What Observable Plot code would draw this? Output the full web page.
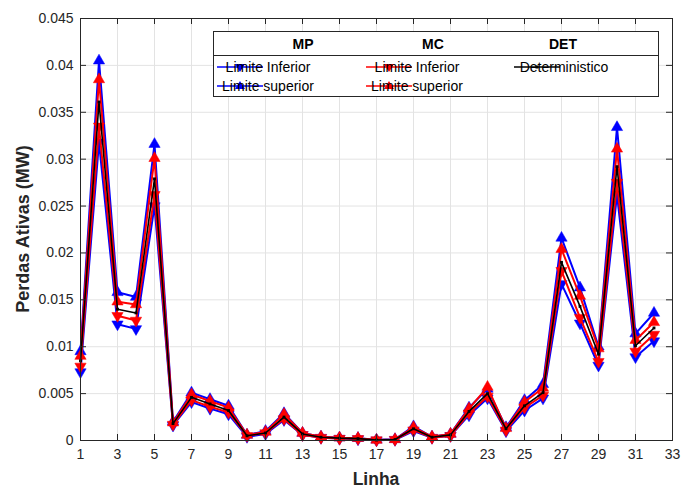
<!DOCTYPE html>
<html>
<head>
<meta charset="utf-8">
<script src="https://cdn.jsdelivr.net/npm/d3@7"></script>
<script src="https://cdn.jsdelivr.net/npm/@observablehq/plot@0.6"></script>
<style>
  html, body { margin: 0; padding: 0; background: #fff; }
</style>
</head>
<body>
<div id="wrap"></div>
<script>
const linhas = [1,2,3,4,5,6,7,8,9,10,11,12,13,14,15,16,17,18,19,20,21,22,23,24,25,26,27,28,29,30,31,32];
const mpInferior = [0.0073,0.0318,0.0124,0.0119,0.0250,0.0016,0.0041,0.0034,0.0028,0.0004,0.0007,0.0022,0.0006,0.0003,0.0002,0.00015,0.00003,0.00008,0.0010,0.0003,0.0005,0.0027,0.0045,0.0010,0.0032,0.0045,0.0167,0.0125,0.0080,0.0262,0.0089,0.0106];
const mpSuperior = [0.0095,0.0405,0.0158,0.0153,0.0316,0.0020,0.0051,0.0044,0.0037,0.0006,0.0010,0.0029,0.0008,0.0004,0.0003,0.00025,0.00007,0.00013,0.0015,0.0004,0.0007,0.0035,0.0055,0.0014,0.0043,0.0060,0.0216,0.0163,0.0100,0.0334,0.0114,0.0136];
const mcInferior = [0.0079,0.0335,0.0133,0.0128,0.0262,0.0017,0.0043,0.0036,0.0030,0.0005,0.0008,0.0023,0.0006,0.0003,0.0002,0.00018,0.00004,0.00009,0.0011,0.0003,0.0005,0.0029,0.0047,0.0011,0.0035,0.0048,0.0181,0.0131,0.0084,0.0275,0.0095,0.0113];
const mcSuperior = [0.0090,0.0385,0.0148,0.0145,0.0301,0.0019,0.0049,0.0042,0.0035,0.0006,0.0009,0.0028,0.0008,0.0004,0.0003,0.00025,0.00006,0.00012,0.0014,0.0004,0.0007,0.0034,0.0057,0.0013,0.0041,0.0056,0.0204,0.0154,0.0098,0.0311,0.0107,0.0126];
const deterministico = [0.0085,0.0361,0.0140,0.0136,0.0279,0.0018,0.0046,0.0039,0.0032,0.0005,0.0008,0.0025,0.0007,0.00035,0.00025,0.0002,0.00005,0.0001,0.00125,0.00035,0.0006,0.0031,0.0050,0.00125,0.0037,0.0051,0.0190,0.0143,0.0092,0.0292,0.0101,0.0120];

const xTicks = [1,3,5,7,9,11,13,15,17,19,21,23,25,27,29,31,33];
const xTickLabels = ["1","3","5","7","9","11","13","15","17","19","21","23","25","27","29","31","33"];
const yTicks = [0,0.005,0.01,0.015,0.02,0.025,0.03,0.035,0.04,0.045];
const yTickLabels = ["0","0.005","0.01","0.015","0.02","0.025","0.03","0.035","0.04","0.045"];

const W = 681, H = 488, mL = 80, mR = 9, mT = 18, mB = 48;
const xDom = [1, 33], yDom = [0, 0.045];
const tickLen = 6;
const dy = (yDom[1] - yDom[0]) * tickLen / (H - mT - mB);
const dx = (xDom[1] - xDom[0]) * tickLen / (W - mL - mR);

function series(vals) { return linhas.map((x, i) => ({x, y: vals[i]})); }

const BLUE = "#0000ff", RED = "#ff0000";
function lineMarks(vals, color, rot, sw) {
  const d = series(vals);
  return [
    Plot.line(d, {x: "x", y: "y", stroke: color, strokeWidth: sw}),
    Plot.dot(d, {x: "x", y: "y", symbol: "triangle", r: 4.2, fill: color, stroke: color, strokeWidth: 0.5, rotate: rot})
  ];
}
const detData = series(deterministico);

// Render-only mark: axis titles and legend drawn inside the same SVG
function decorations() {
  const g = d3.create("svg:g").attr("font-family", "'Liberation Sans', Arial, Helvetica, sans-serif");
  g.append("text").attr("x", 376).attr("y", 485).attr("text-anchor", "middle")
    .attr("font-size", 17.5).attr("font-weight", "bold").attr("fill", "#262626").text("Linha");
  g.append("text").attr("transform", "translate(29,229) rotate(-90)").attr("text-anchor", "middle")
    .attr("font-size", 18).attr("font-weight", "bold").attr("fill", "#262626").text("Perdas Ativas (MW)");

  const lgL = 213, lgT = 31, lgR = 658, lgB = 96;
  g.append("rect").attr("x", lgL + 0.5).attr("y", lgT + 0.5).attr("width", lgR - lgL).attr("height", lgB - lgT)
    .attr("fill", "#fff").attr("stroke", "#262626");
  g.append("line").attr("x1", lgL).attr("x2", lgR).attr("y1", 55.5).attr("y2", 55.5).attr("stroke", "#262626");
  [["MP", 303], ["MC", 433], ["DET", 563]].forEach(([t, x]) =>
    g.append("text").attr("x", x).attr("y", 49).attr("text-anchor", "middle")
      .attr("font-size", 14).attr("font-weight", "bold").attr("fill", "#000").text(t));

  const items = [
    {x0: 217, y: 67, color: BLUE, up: false, label: "Limite Inferior"},
    {x0: 217, y: 86, color: BLUE, up: true, label: "Limite superior"},
    {x0: 366, y: 67, color: RED, up: false, label: "Limite Inferior"},
    {x0: 366, y: 86, color: RED, up: true, label: "Limite superior"}
  ];
  items.forEach(it => {
    g.append("line").attr("x1", it.x0).attr("x2", it.x0 + 46).attr("y1", it.y).attr("y2", it.y)
      .attr("stroke", it.color).attr("stroke-width", 1.5);
    const cx = it.x0 + 23, cy = it.y, s = 5;
    const pts = it.up
      ? `${cx - s},${cy + s * 0.6} ${cx + s},${cy + s * 0.6} ${cx},${cy - s}`
      : `${cx - s},${cy - s * 0.6} ${cx + s},${cy - s * 0.6} ${cx},${cy + s}`;
    g.append("polygon").attr("points", pts).attr("fill", it.color);
    g.append("text").attr("x", it.x0 + 51).attr("y", it.y + 5).attr("font-size", 14).attr("fill", "#000").text(it.label);
  });
  g.append("line").attr("x1", 514).attr("x2", 560).attr("y1", 67).attr("y2", 67).attr("stroke", "#000").attr("stroke-width", 1.5);
  g.append("rect").attr("x", 535.5).attr("y", 65.5).attr("width", 3).attr("height", 3).attr("fill", "#000");
  g.append("text").attr("x", 564).attr("y", 72).attr("font-size", 14).attr("fill", "#000").text("Deterministico");
  return g.node();
}

const chart = Plot.plot({
  width: W, height: H,
  marginLeft: mL, marginRight: mR, marginTop: mT, marginBottom: mB,
  x: {domain: xDom},
  y: {domain: yDom},
  style: {fontFamily: "'Liberation Sans', Arial, Helvetica, sans-serif", fontSize: "14px", color: "#262626", background: "#fff"},
  marks: [
    Plot.gridX(xTicks, {stroke: "#e3e3e3", strokeOpacity: 1, strokeWidth: 1}),
    Plot.gridY(yTicks, {stroke: "#e3e3e3", strokeOpacity: 1, strokeWidth: 1}),
    ...lineMarks(mpInferior, BLUE, 180, 2),
    ...lineMarks(mpSuperior, BLUE, 0, 2),
    ...lineMarks(mcInferior, RED, 180, 2),
    ...lineMarks(mcSuperior, RED, 0, 2),
    Plot.line(detData, {x: "x", y: "y", stroke: "#000", strokeWidth: 1.6}),
    Plot.dot(detData, {x: "x", y: "y", symbol: "square", r: 1.6, fill: "#000"}),
    Plot.ruleX(xTicks, {y1: yDom[0], y2: yDom[0] + dy, stroke: "#262626"}),
    Plot.ruleX(xTicks, {y1: yDom[1], y2: yDom[1] - dy, stroke: "#262626"}),
    Plot.ruleY(yTicks, {x1: xDom[0], x2: xDom[0] + dx, stroke: "#262626"}),
    Plot.ruleY(yTicks, {x1: xDom[1], x2: xDom[1] - dx, stroke: "#262626"}),
    Plot.frame({stroke: "#262626", strokeWidth: 1}),
    Plot.axisX(xTicks, {tickSize: 0, tickPadding: 9, label: null, tickFormat: (d, i) => xTickLabels[i]}),
    Plot.axisY(yTicks, {tickSize: 0, tickPadding: 7, label: null, tickFormat: (d, i) => yTickLabels[i]}),
    decorations
  ]
});

document.getElementById("wrap").appendChild(chart);
</script>
</body>
</html>
